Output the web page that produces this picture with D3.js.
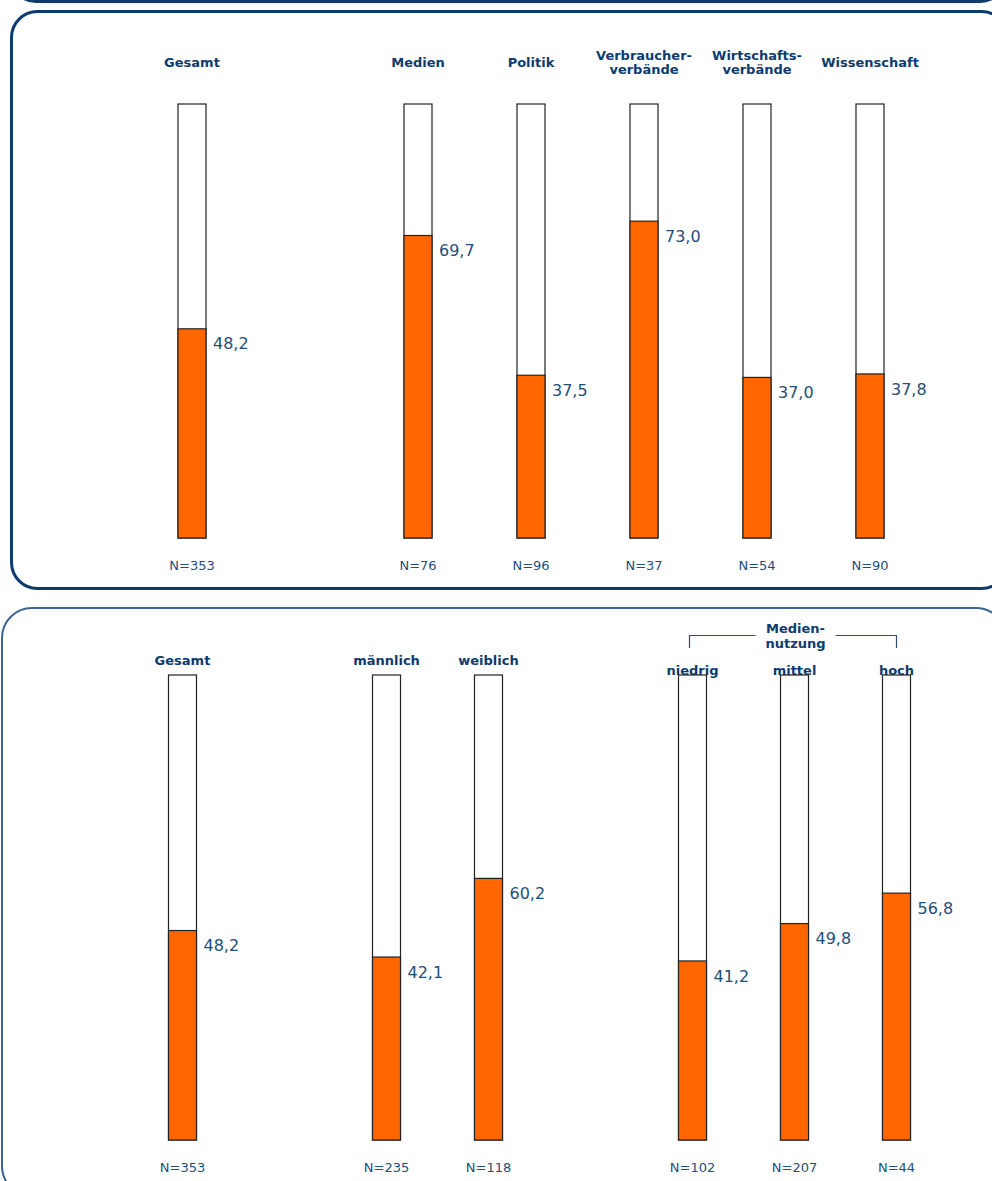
<!DOCTYPE html>
<html>
<head>
<meta charset="utf-8">
<script src="https://cdn.jsdelivr.net/npm/d3@7"></script>
<style>
  html, body { margin: 0; padding: 0; background: #ffffff; }
  svg { display: block; }
</style>
</head>
<body>
<script>
// Anteil (%) je Gruppe – oberes Panel: nach Akteursgruppe
const topKeys = ["gesamt", "gap1", "medien", "politik", "verbraucher", "wirtschaft", "wissenschaft"];
const topLabels = [["Gesamt"], ["Medien"], ["Politik"], ["Verbraucher-", "verbände"], ["Wirtschafts-", "verbände"], ["Wissenschaft"]];
const topBarKeys = ["gesamt", "medien", "politik", "verbraucher", "wirtschaft", "wissenschaft"];
const topValues = [48.2, 69.7, 37.5, 73.0, 37.0, 37.8];
const topN = [353, 76, 96, 37, 54, 90];

// Unteres Panel: nach Geschlecht und Mediennutzung
const bottomKeys = ["gesamt", "gap1", "maennlich", "weiblich", "gap2", "niedrig", "mittel", "hoch"];
const bottomLabels = [["Gesamt"], ["männlich"], ["weiblich"], ["niedrig"], ["mittel"], ["hoch"]];
const bottomBarKeys = ["gesamt", "maennlich", "weiblich", "niedrig", "mittel", "hoch"];
const bottomValues = [48.2, 42.1, 60.2, 41.2, 49.8, 56.8];
const bottomN = [353, 235, 118, 102, 207, 44];
const groupTitle = ["Medien-", "nutzung"];
const groupMembers = ["niedrig", "mittel", "hoch"];

const W = 992, H = 1181;
const NAVY = "#0d3b6e";
const TEXT = "#1f4e79";
const ORANGE = "#ff6600";
const BAR_W = 28;

const de = d3.formatLocale({ decimal: ",", thousands: ".", grouping: [3], currency: ["", " €"] });
const fmt = de.format(".1f");

const svg = d3.select("body").append("svg")
  .attr("width", W).attr("height", H)
  .style("font-family", "'DejaVu Sans', Verdana, sans-serif");

// Panel frames
svg.append("rect")
  .attr("x", 10).attr("y", -200).attr("width", 996).attr("height", 201.5)
  .attr("rx", 26).attr("fill", "none").attr("stroke", NAVY).attr("stroke-width", 3);
svg.append("rect")
  .attr("x", 11.5).attr("y", 11.5).attr("width", 996).attr("height", 577)
  .attr("rx", 26).attr("fill", "#fff").attr("stroke", NAVY).attr("stroke-width", 3);
svg.append("rect")
  .attr("x", 2).attr("y", 608).attr("width", 1004).attr("height", 588)
  .attr("rx", 30).attr("fill", "#fff").attr("stroke", "#3a6590").attr("stroke-width", 2);

function drawPanel(opts) {
  const g = svg.append("g");
  const x = d3.scaleBand().domain(opts.keys).range(opts.xRange).paddingInner(0).paddingOuter(0);
  const y = d3.scaleLinear().domain([0, opts.yMax]).range(opts.yRange);
  const cx = k => x(k) + x.bandwidth() / 2;

  const rows = opts.barKeys.map((k, i) => ({ key: k, value: opts.values[i], n: opts.n[i], label: opts.labels[i] }));

  // Headers
  const head = g.selectAll("text.head").data(rows).join("text")
    .attr("class", "head")
    .attr("x", d => cx(d.key))
    .attr("y", d => opts.headerY(d))
    .attr("text-anchor", "middle")
    .attr("fill", NAVY)
    .attr("font-size", 13)
    .attr("font-weight", "bold");
  head.each(function (d) {
    const t = d3.select(this);
    const n = d.label.length;
    d.label.forEach((line, j) => {
      t.append("tspan").attr("x", cx(d.key))
        .attr("y", opts.headerY(d) + (j - (n - 1) / 2) * 14)
        .attr("dy", "0.35em")
        .text(line);
    });
  });

  // Background (full-scale) bars
  g.selectAll("rect.bg").data(rows).join("rect")
    .attr("class", "bg")
    .attr("x", d => cx(d.key) - BAR_W / 2)
    .attr("y", y(opts.yMax))
    .attr("width", BAR_W)
    .attr("height", y(0) - y(opts.yMax))
    .attr("fill", "#fff").attr("stroke", "#222").attr("stroke-width", 1.2);

  // Value bars
  g.selectAll("rect.val").data(rows).join("rect")
    .attr("class", "val")
    .attr("x", d => cx(d.key) - BAR_W / 2)
    .attr("y", d => y(d.value))
    .attr("width", BAR_W)
    .attr("height", d => y(0) - y(d.value))
    .attr("fill", ORANGE).attr("stroke", "#222").attr("stroke-width", 1.2);

  // Value labels
  g.selectAll("text.val").data(rows).join("text")
    .attr("class", "val")
    .attr("x", d => cx(d.key) + BAR_W / 2 + 7)
    .attr("y", d => y(d.value) + 15)
    .attr("dy", "0.35em")
    .attr("fill", TEXT).attr("font-size", 16)
    .text(d => fmt(d.value));

  // Sample sizes
  g.selectAll("text.n").data(rows).join("text")
    .attr("class", "n")
    .attr("x", d => cx(d.key))
    .attr("y", opts.nY)
    .attr("dy", "0.35em")
    .attr("text-anchor", "middle")
    .attr("fill", TEXT).attr("font-size", 13)
    .text(d => "N=" + d.n);

  return { g, x, y, cx };
}

drawPanel({
  keys: topKeys, barKeys: topBarKeys, labels: topLabels, values: topValues, n: topN,
  xRange: [135.5, 926.5], yMax: 100, yRange: [538, 104],
  headerY: () => 62, nY: 565
});

const bottom = drawPanel({
  keys: bottomKeys, barKeys: bottomBarKeys, labels: bottomLabels, values: bottomValues, n: bottomN,
  xRange: [131.5, 947.5], yMax: 107, yRange: [1140, 675],
  headerY: d => groupMembers.includes(d.key) ? 670 : 660, nY: 1167
});

// Group bracket over Mediennutzung
(function () {
  const g = bottom.g;
  const left = bottom.cx(groupMembers[0]) - 3;
  const right = bottom.cx(groupMembers[groupMembers.length - 1]);
  const mid = bottom.cx(groupMembers[1]) + 1;
  const lineY = 635.5, tickEnd = 648;
  const title = g.append("text")
    .attr("text-anchor", "middle").attr("fill", NAVY)
    .attr("font-size", 13).attr("font-weight", "bold");
  groupTitle.forEach((line, j) => {
    title.append("tspan").attr("x", mid).attr("y", 628 + j * 15.5).attr("dy", "0.35em").text(line);
  });
  const bb = title.node().getBBox();
  const gapL = bb.x - 10, gapR = bb.x + bb.width + 10;
  const path = d3.path();
  path.moveTo(left, tickEnd); path.lineTo(left, lineY); path.lineTo(gapL, lineY);
  path.moveTo(gapR, lineY); path.lineTo(right, lineY); path.lineTo(right, tickEnd);
  g.append("path").attr("d", path.toString())
    .attr("fill", "none").attr("stroke", "#2c4f78").attr("stroke-width", 1.2);
})();
</script>
</body>
</html>
